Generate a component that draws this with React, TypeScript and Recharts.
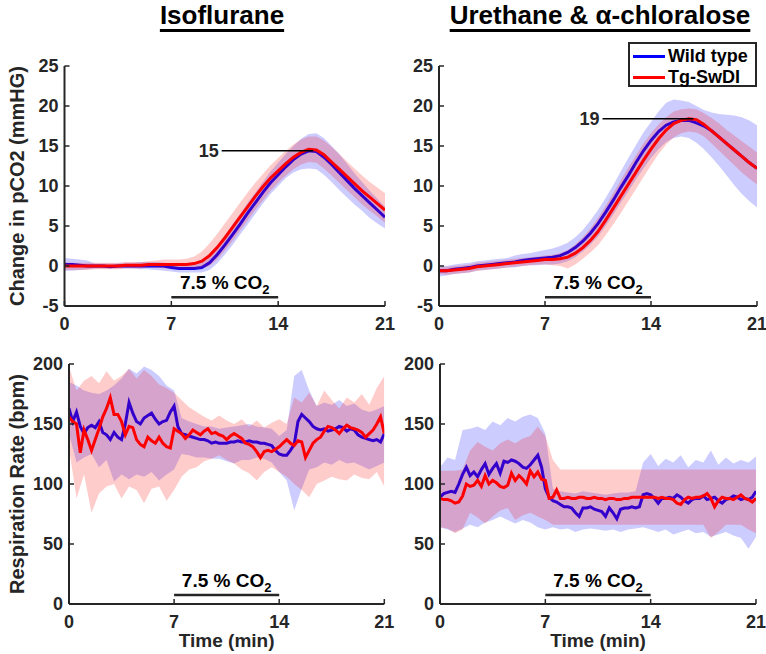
import React from 'react';
import { ComposedChart, Area, Line, XAxis, YAxis, ReferenceLine } from 'recharts';

const AXIS = '#262626';
const BLUE = '#0000ff';
const RED = '#ff0000';
const FONT = '"Liberation Sans", Arial, Helvetica, sans-serif';

const titles = ['Isoflurane', 'Urethane & α-chloralose'];
const legendItems = [
  { name: 'Wild type', color: BLUE },
  { name: 'Tg-SwDI', color: RED },
];
const xTicks = [0, 7, 14, 21];
const pco2Ticks = [-5, 0, 5, 10, 15, 20, 25];
const rateTicks = [0, 50, 100, 150, 200];

// pCO2 change, one value every 0.5 min (0..21)
const isoPco2WtMean = [0.2, 0.2, 0.1, 0, 0, 0, -0.1, 0, 0, 0, 0, 0, 0, 0, -0.2, -0.3, -0.3, -0.3, -0.2, 0.4, 1.4, 2.6, 3.9, 5.2, 6.6, 7.9, 9.2, 10.4, 11.4, 12.4, 13.3, 14.0, 14.4, 14.3, 13.6, 12.7, 11.7, 10.7, 9.7, 8.8, 7.9, 7.0, 6.1];
const isoPco2TgMean = [0, 0, 0, 0, 0, 0, 0, 0, 0.1, 0.1, 0.1, 0.2, 0.2, 0.2, 0.2, 0.2, 0.2, 0.3, 0.6, 1.3, 2.3, 3.5, 4.8, 6.1, 7.4, 8.7, 9.9, 11.0, 11.9, 12.8, 13.6, 14.2, 14.6, 14.5, 13.9, 13.0, 12.1, 11.2, 10.3, 9.4, 8.6, 7.8, 7.0];
const isoPco2WtLow = [-0.6, -0.6, -0.5, -0.4, -0.3, -0.3, -0.3, -0.3, -0.3, -0.3, -0.4, -0.4, -0.5, -0.6, -0.7, -0.8, -0.8, -0.8, -0.8, -0.5, 0.3, 1.4, 2.6, 3.9, 5.2, 6.5, 7.8, 9.0, 10.0, 11.0, 11.7, 12.1, 12.2, 12.1, 11.4, 10.5, 9.5, 8.6, 7.7, 6.9, 6.0, 5.3, 4.7];
const isoPco2WtHigh = [1.0, 0.9, 0.8, 0.7, 0.3, 0.3, 0.3, 0.3, 0.4, 0.4, 0.5, 0.5, 0.5, 0.4, 0.3, 0.3, 0.3, 0.4, 0.8, 1.5, 2.6, 3.8, 5.2, 6.5, 7.9, 9.2, 10.5, 11.8, 12.9, 14.0, 15.0, 15.9, 16.5, 16.6, 16.0, 15.0, 14.0, 12.8, 11.6, 10.5, 9.4, 8.4, 7.4];
const isoPco2TgLow = [-0.5, -0.5, -0.5, -0.5, -0.4, -0.4, -0.4, -0.4, -0.3, -0.3, -0.3, -0.2, -0.2, -0.3, -0.3, -0.4, -0.4, -0.4, -0.3, 0.0, 0.8, 1.9, 3.1, 4.4, 5.7, 7.0, 8.2, 9.4, 10.4, 11.3, 12.1, 12.7, 13.0, 12.9, 12.2, 11.3, 10.4, 9.5, 8.6, 7.7, 6.9, 6.2, 5.4];
const isoPco2TgHigh = [0.5, 0.4, 0.4, 0.4, 0.4, 0.4, 0.4, 0.4, 0.5, 0.5, 0.5, 0.6, 0.7, 0.8, 0.8, 0.8, 0.9, 1.2, 1.8, 2.8, 4.0, 5.3, 6.6, 7.9, 9.2, 10.4, 11.5, 12.6, 13.5, 14.4, 15.2, 15.8, 16.2, 16.2, 15.7, 14.9, 14.0, 13.1, 12.2, 11.3, 10.5, 9.8, 9.1];

const uaPco2WtMean = [-0.6, -0.6, -0.4, -0.3, -0.2, 0.0, 0.1, 0.2, 0.3, 0.4, 0.5, 0.7, 0.8, 0.9, 1.0, 1.1, 1.3, 1.7, 2.3, 3.1, 4.1, 5.3, 6.7, 8.2, 9.8, 11.3, 12.9, 14.4, 15.7, 16.8, 17.6, 18.0, 18.2, 18.2, 17.9, 17.5, 16.9, 16.1, 15.3, 14.5, 13.7, 12.9, 12.2];
const uaPco2TgMean = [-0.6, -0.6, -0.5, -0.4, -0.3, -0.1, 0.0, 0.1, 0.2, 0.3, 0.4, 0.5, 0.6, 0.7, 0.8, 0.8, 0.9, 1.1, 1.6, 2.3, 3.2, 4.3, 5.7, 7.2, 8.7, 10.2, 11.7, 13.2, 14.6, 15.9, 17.0, 17.8, 18.2, 18.4, 18.3, 17.7, 16.9, 16.1, 15.3, 14.5, 13.7, 12.9, 12.2];
const uaPco2WtLow = [-1.3, -1.2, -1.0, -0.9, -0.8, -0.6, -0.5, -0.4, -0.3, -0.2, -0.2, 0.0, 0.1, 0.1, 0.2, 0.2, 0.3, 0.6, 1.1, 1.8, 2.7, 3.7, 5.0, 6.4, 7.9, 9.3, 10.8, 12.2, 13.5, 14.6, 15.5, 16.0, 16.2, 16.0, 15.4, 14.6, 13.6, 12.5, 11.3, 10.1, 9.0, 8.1, 7.3];
const uaPco2WtHigh = [0.1, 0.0, 0.2, 0.3, 0.4, 0.6, 0.7, 0.8, 0.9, 1.0, 1.3, 1.5, 1.6, 1.8, 2.0, 2.2, 2.5, 2.9, 3.6, 4.5, 5.7, 7.0, 8.5, 10.1, 11.8, 13.5, 15.1, 16.7, 18.0, 19.3, 20.4, 20.8, 20.7, 20.5, 20.0, 19.5, 19.2, 19.0, 18.9, 18.8, 18.6, 18.2, 17.6];
const uaPco2TgLow = [-1.0, -1.1, -1.0, -0.9, -0.8, -0.6, -0.5, -0.4, -0.3, -0.2, -0.1, 0.0, 0.1, 0.2, 0.2, 0.1, 0.0, -0.3, 0.2, 0.9, 1.7, 2.6, 3.8, 5.2, 6.6, 8.1, 9.6, 11.1, 12.6, 14.0, 15.2, 16.1, 16.6, 16.8, 16.7, 16.2, 15.3, 14.4, 13.5, 12.6, 11.7, 10.9, 10.2];
const uaPco2TgHigh = [-0.2, -0.1, 0.0, 0.1, 0.2, 0.4, 0.5, 0.6, 0.7, 0.8, 0.9, 1.0, 1.1, 1.2, 1.3, 1.4, 1.6, 2.0, 2.7, 3.6, 4.7, 6.0, 7.5, 9.1, 10.7, 12.3, 13.8, 15.3, 16.6, 17.7, 18.6, 19.3, 19.6, 19.7, 19.6, 19.1, 18.5, 17.8, 17.0, 16.3, 15.6, 14.9, 14.2];

// respiration rate means, one value every 0.25 min
const isoRateWtMean = [
  163, 152, 160, 148, 142, 147, 149, 147, 152, 143, 141, 137, 143, 139, 137, 150,
  168, 159, 152, 150, 155, 157, 159, 154, 150, 152, 153, 160, 165, 148, 142, 141,
  140, 139, 138, 137, 137, 136, 134, 135, 134, 134, 134, 135, 135, 136, 135, 135,
  136, 135, 135, 134, 134, 133, 132, 128, 125, 124, 124, 128, 133, 152, 158, 155,
  152, 148, 146, 145, 146, 144, 145, 146, 148, 147, 144, 146, 145, 141, 139, 138,
  137, 136, 137, 135, 142,
];
const isoRateTgMean = [
  156, 152, 150, 126, 145, 137, 128, 137, 146, 156, 163, 172, 158, 158, 152, 141,
  148, 147, 137, 133, 131, 139, 136, 134, 139, 134, 131, 130, 146, 144, 142, 138,
  141, 145, 143, 141, 144, 146, 142, 143, 141, 140, 137, 140, 142, 140, 138, 134,
  133, 131, 127, 122, 127, 128, 127, 129, 131, 134, 137, 134, 132, 136, 135, 122,
  128, 134, 137, 139, 144, 148, 147, 145, 142, 146, 149, 147, 146, 145, 143, 139,
  142, 145, 150, 156, 142,
];
const uaRateWtMean = [
  89, 92, 93, 94, 93, 100, 108, 114, 107, 110, 106, 112, 117, 108, 113, 117,
  109, 119, 118, 120, 119, 117, 114, 113, 116, 120, 124, 114, 96, 89, 86, 85,
  83, 81, 81, 80, 76, 73, 80, 80, 81, 79, 78, 77, 73, 80, 76, 71,
  79, 80, 80, 81, 80, 81, 91, 92, 91, 88, 84, 88, 88, 89, 88, 91,
  89, 86, 84, 87, 88, 88, 90, 87, 88, 89, 86, 84, 87, 88, 90, 89,
  87, 88, 87, 89, 94,
];
const uaRateTgMean = [
  88, 87, 87, 86, 84, 85, 90, 100, 98, 99, 103, 98, 107, 100, 103, 101,
  98, 97, 99, 109, 103, 107, 104, 100, 111, 106, 110, 104, 103, 88, 89, 95,
  88, 88, 89, 88, 88, 89, 89, 88, 88, 89, 88, 88, 87, 88, 88, 87,
  87, 88, 88, 89, 89, 89, 89, 89, 89, 89, 88, 89, 88, 88, 87, 84,
  83, 87, 89, 88, 89, 89, 90, 92, 88, 81, 86, 89, 88, 88, 87, 89,
  91, 88, 87, 85, 88,
];

// respiration rate spread, one value every 0.5 min
const isoRateWtLow = [142, 118, 122, 125, 114, 120, 102, 108, 104, 108, 106, 110, 103, 108, 112, 125, 124, 122, 122, 121, 121, 119, 117, 120, 120, 122, 121, 118, 110, 103, 78, 96, 112, 114, 118, 116, 120, 117, 118, 115, 112, 115, 118];
const isoRateWtHigh = [185, 182, 178, 176, 175, 178, 182, 188, 196, 192, 198, 195, 190, 182, 178, 155, 152, 150, 148, 148, 146, 147, 148, 149, 150, 148, 147, 146, 140, 145, 190, 195, 178, 165, 168, 166, 170, 165, 167, 162, 160, 162, 165];
const isoRateTgLow = [130, 88, 108, 76, 92, 98, 100, 88, 98, 95, 84, 96, 98, 86, 95, 106, 112, 114, 119, 121, 124, 120, 117, 112, 109, 103, 110, 114, 110, 106, 100, 95, 89, 100, 103, 106, 104, 103, 108, 105, 104, 110, 98];
const isoRateTgHigh = [198, 178, 186, 190, 184, 194, 186, 190, 196, 188, 195, 190, 183, 180, 176, 170, 164, 160, 156, 153, 157, 153, 150, 154, 148, 153, 147, 151, 154, 150, 172, 168, 176, 165, 178, 170, 163, 172, 168, 175, 166, 180, 190];

const uaRateWtLow = [64, 62, 60, 63, 66, 64, 68, 70, 73, 70, 67, 70, 68, 64, 62, 64, 62, 63, 60, 62, 63, 62, 61, 62, 60, 62, 63, 64, 62, 60, 62, 58, 60, 62, 59, 60, 56, 58, 60, 57, 55, 46, 56];
const uaRateWtHigh = [114, 122, 120, 145, 146, 148, 145, 152, 149, 155, 152, 156, 158, 155, 142, 96, 94, 93, 92, 94, 93, 92, 91, 92, 93, 93, 94, 118, 125, 115, 121, 118, 124, 114, 120, 118, 128, 116, 122, 117, 120, 118, 123];
const uaRateTgLow = [64, 63, 59, 62, 76, 72, 67, 73, 78, 80, 70, 74, 76, 73, 70, 66, 66, 66, 66, 66, 66, 66, 66, 66, 66, 66, 66, 66, 66, 66, 66, 66, 66, 66, 66, 66, 55, 60, 66, 66, 66, 62, 59];
const uaRateTgHigh = [111, 111, 111, 112, 128, 135, 131, 128, 134, 137, 134, 138, 140, 148, 140, 120, 112, 112, 112, 112, 112, 112, 112, 112, 112, 112, 112, 112, 112, 112, 112, 112, 112, 112, 112, 112, 112, 112, 112, 112, 112, 112, 112];

type Pt = { t: number; v: number };
type BandPt = { t: number; band: [number, number] };

const series = (step: number, values: number[]): Pt[] => values.map((v, i) => ({ t: i * step, v }));
const spread = (step: number, low: number[], high: number[]): BandPt[] =>
  low.map((lo, i) => ({ t: i * step, band: [lo, high[i]] }));

const X_GAP = 11;
const Y_GAP = 6;

const XTick = (props: any) => {
  const { x, y, payload } = props;
  const axisY = y - X_GAP;
  return (
    <g>
      <line x1={x} x2={x} y1={axisY} y2={axisY - 5} stroke={AXIS} strokeWidth={1.5} />
      <text x={x} y={y} dy="0.71em" textAnchor="middle" fill={AXIS} fontSize={18} fontWeight="bold" fontFamily={FONT}>
        {payload.value}
      </text>
    </g>
  );
};

const YTick = (props: any) => {
  const { x, y, payload } = props;
  const axisX = x + Y_GAP;
  return (
    <g>
      <line x1={axisX} x2={axisX + 5} y1={y} y2={y} stroke={AXIS} strokeWidth={1.5} />
      <text x={x} y={y} dy="0.36em" textAnchor="end" fill={AXIS} fontSize={18} fontWeight="bold" fontFamily={FONT}>
        {payload.value}
      </text>
    </g>
  );
};

interface Peak {
  text: string;
  x1: number;
  x2: number;
  y: number;
}

interface PanelProps {
  left: number;
  top: number;
  width: number;
  height: number;
  marginTop: number;
  marginRight: number;
  yAxisWidth: number;
  xAxisHeight: number;
  yDomain: [number, number];
  yTicks: number[];
  yLabel?: string;
  timeLabel?: boolean;
  wt: Pt[];
  tg: Pt[];
  wtBand: BandPt[];
  tgBand: BandPt[];
  co2Y: number;
  peak?: Peak;
}

const Panel: React.FC<PanelProps> = (p) => {
  const yTitle = (lp: any) => {
    if (!p.yLabel) return null;
    const vb = lp.viewBox;
    const cy = vb.y + vb.height / 2;
    return (
      <text transform={`translate(17,${cy}) rotate(-90)`} textAnchor="middle" dy="0.36em" fill={AXIS}
        fontSize={20} fontWeight="bold" fontFamily={FONT}>
        {p.yLabel}
      </text>
    );
  };
  const xTitle = (lp: any) => {
    if (!p.timeLabel) return null;
    const vb = lp.viewBox;
    return (
      <text x={vb.x + vb.width / 2} y={vb.y + 43} textAnchor="middle" fill={AXIS} fontSize={19}
        fontWeight="bold" fontFamily={FONT}>
        Time (min)
      </text>
    );
  };
  const co2Label = (lp: any) => {
    const vb = lp.viewBox;
    return (
      <text x={vb.x + vb.width / 2} y={vb.y - 8} textAnchor="middle" fill="#000" fontSize={19} fontWeight="bold" fontFamily={FONT}>
        7.5 % CO<tspan fontSize={13} dy={5}>2</tspan>
      </text>
    );
  };
  const peakLabel = (lp: any) => {
    const vb = lp.viewBox;
    return (
      <text x={vb.x - 3} y={vb.y} dy="0.36em" textAnchor="end" fill={AXIS} fontSize={18} fontWeight="bold" fontFamily={FONT}>
        {p.peak?.text}
      </text>
    );
  };

  return (
    <div style={{ position: 'absolute', left: p.left, top: p.top }}>
      <ComposedChart
        width={p.width}
        height={p.height}
        margin={{ top: p.marginTop, right: p.marginRight, bottom: 0, left: 0 }}
      >
        <XAxis
          dataKey="t"
          type="number"
          domain={[0, 21]}
          ticks={xTicks}
          interval={0}
          height={p.xAxisHeight}
          axisLine={{ stroke: AXIS, strokeWidth: 2 }}
          tickLine={false}
          tickSize={0}
          tickMargin={X_GAP}
          tick={<XTick />}
          label={xTitle}
          allowDataOverflow
        />
        <YAxis
          type="number"
          domain={p.yDomain}
          ticks={p.yTicks}
          interval={0}
          width={p.yAxisWidth}
          axisLine={{ stroke: AXIS, strokeWidth: 2 }}
          tickLine={false}
          tickSize={0}
          tickMargin={Y_GAP}
          tick={<YTick />}
          label={yTitle}
          allowDataOverflow
        />
        {/* drawn in this order so the red band tints the blue line, as in the original */}
        <Area data={p.wtBand} dataKey="band" type="linear" stroke="none" fill={BLUE} fillOpacity={0.2}
          isAnimationActive={false} zIndex={100} />
        <Line data={p.wt} dataKey="v" type="linear" stroke={BLUE} strokeWidth={3} dot={false}
          isAnimationActive={false} zIndex={101} />
        <Area data={p.tgBand} dataKey="band" type="linear" stroke="none" fill={RED} fillOpacity={0.2}
          isAnimationActive={false} zIndex={102} />
        <Line data={p.tg} dataKey="v" type="linear" stroke={RED} strokeWidth={3} dot={false}
          isAnimationActive={false} zIndex={103} />
        <ReferenceLine
          segment={[{ x: 7, y: p.co2Y }, { x: 14, y: p.co2Y }]}
          stroke={AXIS}
          strokeWidth={2.5}
          label={co2Label}
        />
        {p.peak && (
          <ReferenceLine
            segment={[{ x: p.peak.x1, y: p.peak.y }, { x: p.peak.x2, y: p.peak.y }]}
            stroke="#000"
            strokeWidth={1.5}
            label={peakLabel}
          />
        )}
      </ComposedChart>
    </div>
  );
};

const titleStyle = (cx: number): React.CSSProperties => ({
  position: 'absolute',
  left: cx,
  top: 2,
  transform: 'translateX(-50%)',
  fontSize: 26,
  lineHeight: '26px',
  fontWeight: 'bold',
  fontFamily: FONT,
  color: '#000',
  whiteSpace: 'nowrap',
  textDecoration: 'underline',
  textDecorationThickness: '2.5px',
  textUnderlineOffset: '5px',
});

const KeyBox: React.FC = () => (
  <div
    style={{
      position: 'absolute',
      left: 628,
      top: 42,
      width: 129,
      height: 45,
      boxSizing: 'border-box',
      border: `2px solid ${AXIS}`,
      background: '#fff',
      fontFamily: FONT,
    }}
  >
    {legendItems.map((item, i) => (
      <div key={item.name} style={{ position: 'absolute', left: 3, top: 2 + i * 21, height: 20, display: 'flex', alignItems: 'center' }}>
        <div style={{ width: 32, height: 3, background: item.color, marginRight: 3 }} />
        <span style={{ fontSize: 18, fontWeight: 'bold', color: '#000', lineHeight: '20px' }}>{item.name}</span>
      </div>
    ))}
  </div>
);

export default function App() {
  return (
    <div style={{ position: 'absolute', left: 0, top: 0, width: 766, height: 654, background: '#fff', overflow: 'hidden' }}>
      <div style={titleStyle(222)}>{titles[0]}</div>
      <div style={titleStyle(600)}>{titles[1]}</div>

      <Panel
        left={0} top={0} width={400} height={345} marginTop={66} marginRight={15}
        yAxisWidth={64.5} xAxisHeight={39}
        yDomain={[-5, 25]} yTicks={pco2Ticks} yLabel="Change in pCO2 (mmHG)"
        wt={series(0.5, isoPco2WtMean)} tg={series(0.5, isoPco2TgMean)}
        wtBand={spread(0.5, isoPco2WtLow, isoPco2WtHigh)} tgBand={spread(0.5, isoPco2TgLow, isoPco2TgHigh)}
        co2Y={-3.9}
        peak={{ text: '15', x1: 10.3, x2: 16.3, y: 14.4 }}
      />
      <Panel
        left={386} top={0} width={380} height={345} marginTop={66} marginRight={9}
        yAxisWidth={53} xAxisHeight={39}
        yDomain={[-5, 25]} yTicks={pco2Ticks}
        wt={series(0.5, uaPco2WtMean)} tg={series(0.5, uaPco2TgMean)}
        wtBand={spread(0.5, uaPco2WtLow, uaPco2WtHigh)} tgBand={spread(0.5, uaPco2TgLow, uaPco2TgHigh)}
        co2Y={-3.9}
        peak={{ text: '19', x1: 10.8, x2: 16.8, y: 18.4 }}
      />
      <Panel
        left={0} top={345} width={400} height={309} marginTop={19} marginRight={15.7}
        yAxisWidth={69} xAxisHeight={50}
        yDomain={[0, 200]} yTicks={rateTicks} yLabel="Respiration Rate (bpm)" timeLabel
        wt={series(0.25, isoRateWtMean)} tg={series(0.25, isoRateTgMean)}
        wtBand={spread(0.5, isoRateWtLow, isoRateWtHigh)} tgBand={spread(0.5, isoRateTgLow, isoRateTgHigh)}
        co2Y={7.5}
      />
      <Panel
        left={386} top={345} width={380} height={309} marginTop={19} marginRight={10}
        yAxisWidth={54} xAxisHeight={50}
        yDomain={[0, 200]} yTicks={rateTicks} timeLabel
        wt={series(0.25, uaRateWtMean)} tg={series(0.25, uaRateTgMean)}
        wtBand={spread(0.5, uaRateWtLow, uaRateWtHigh)} tgBand={spread(0.5, uaRateTgLow, uaRateTgHigh)}
        co2Y={7.5}
      />

      <KeyBox />
    </div>
  );
}
